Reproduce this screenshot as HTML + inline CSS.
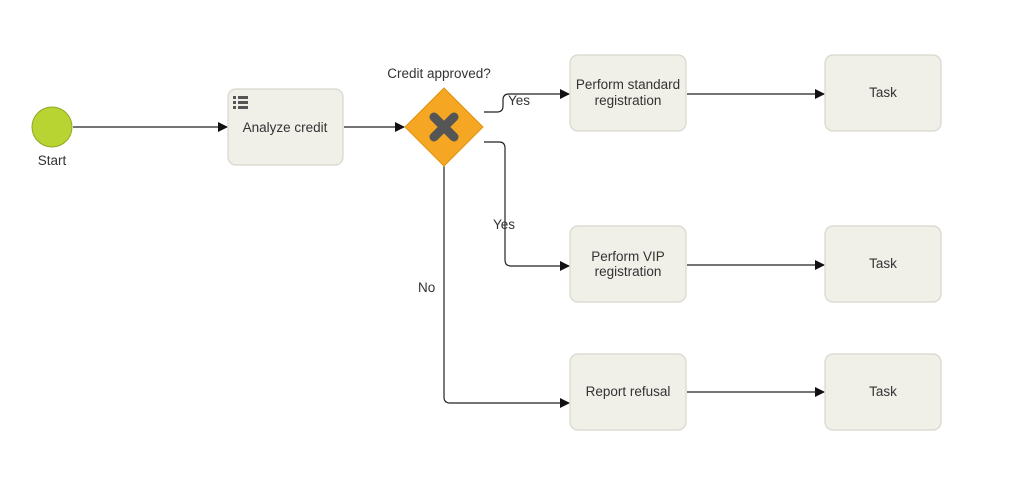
<!DOCTYPE html>
<html><head><style>
body{margin:0;background:#fff;width:1024px;height:493px;overflow:hidden}
text{font-family:"Liberation Sans",sans-serif;font-size:13.5px;fill:#333}
</style></head><body>
<svg width="1024" height="493" xmlns="http://www.w3.org/2000/svg">
<defs><marker id="a" markerWidth="10" markerHeight="10" refX="9" refY="5" orient="auto" markerUnits="userSpaceOnUse"><path d="M0,0 L10,5 L0,10 z" fill="#111"/></marker></defs>
<g fill="none" stroke="#222" stroke-width="1.2">
<path d="M73,127 H227" marker-end="url(#a)"/>
<path d="M344,127 H404" marker-end="url(#a)"/>
<path d="M484,112 H497 Q503,112 503,106 V100 Q503,94 509,94 H569" marker-end="url(#a)"/>
<path d="M484,142 H499 Q505,142 505,148 V260 Q505,266 511,266 H569" marker-end="url(#a)"/>
<path d="M444,166 V397 Q444,403 450,403 H569" marker-end="url(#a)"/>
<path d="M687,94 H824" marker-end="url(#a)"/>
<path d="M687,265 H824" marker-end="url(#a)"/>
<path d="M687,392 H824" marker-end="url(#a)"/>
</g>
<circle cx="52" cy="127" r="20" fill="#b8d432" stroke="#8fa828" stroke-width="1"/>
<text x="52" y="165" text-anchor="middle">Start</text>
<g fill="#f0efe8" stroke="#d8d6cc" stroke-width="1.2">
<rect x="228" y="89" width="115" height="76" rx="8"/>
<rect x="570" y="55" width="116" height="76" rx="8"/>
<rect x="570" y="226" width="116" height="76" rx="8"/>
<rect x="570" y="354" width="116" height="76" rx="8"/>
<rect x="825" y="55" width="116" height="76" rx="8"/>
<rect x="825" y="226" width="116" height="76" rx="8"/>
<rect x="825" y="354" width="116" height="76" rx="8"/>
</g>
<g fill="#555"><rect x="233" y="96" width="3" height="3"/><rect x="238" y="96" width="10" height="3"/><rect x="233" y="101" width="3" height="3"/><rect x="238" y="101" width="10" height="3"/><rect x="233" y="106" width="3" height="3"/><rect x="238" y="106" width="10" height="3"/></g>
<text x="285" y="132" text-anchor="middle">Analyze credit</text>
<path d="M444,88 L483,127 L444,166 L405,127 z" fill="#f5a623" stroke="#e09412"/>
<path d="M434,117 L454,137 M454,117 L434,137" stroke="#555" stroke-width="9" stroke-linecap="round"/>
<text x="439" y="78" text-anchor="middle">Credit approved?</text>
<text x="508" y="105">Yes</text>
<text x="493" y="229">Yes</text>
<text x="418" y="292">No</text>
<text x="628" y="89" text-anchor="middle">Perform standard</text>
<text x="628" y="105" text-anchor="middle">registration</text>
<text x="628" y="261" text-anchor="middle">Perform VIP</text>
<text x="628" y="276" text-anchor="middle">registration</text>
<text x="628" y="396" text-anchor="middle">Report refusal</text>
<text x="883" y="97" text-anchor="middle">Task</text>
<text x="883" y="268" text-anchor="middle">Task</text>
<text x="883" y="396" text-anchor="middle">Task</text>
</svg>
</body></html>
